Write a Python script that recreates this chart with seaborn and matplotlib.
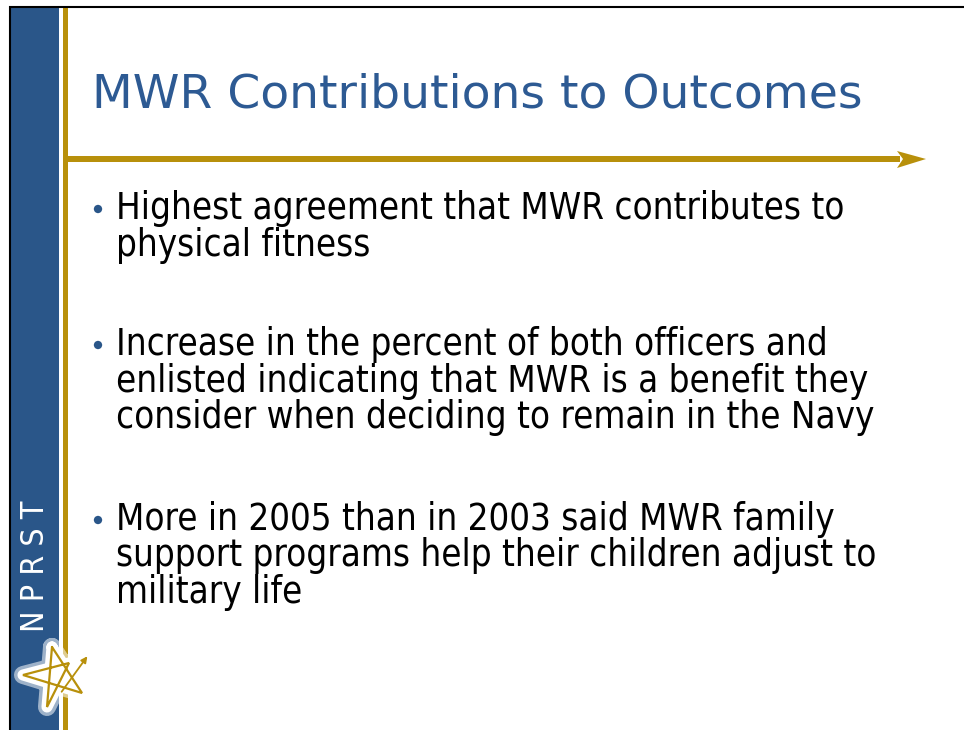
import matplotlib
matplotlib.use("Agg")
import matplotlib.pyplot as plt
import seaborn as sns
import numpy as np

sns.set_theme(style="white")
plt.rcParams["font.family"] = ["DejaVu Sans"]

TITLE = "MWR Contributions to Outcomes"
SIDE_LABEL = "N P R S T"

BULLETS = [
    ["Highest agreement that MWR contributes to",
     "physical fitness"],
    ["Increase in the percent of both officers and",
     "enlisted indicating that MWR is a benefit they",
     "consider when deciding to remain in the Navy"],
    ["More in 2005 than in 2003 said MWR family",
     "support programs help their children adjust to",
     "military life"],
]

BLUE = "#2A5689"
TITLE_BLUE = "#2D5A93"
GOLD = "#B8900B"


def intersect(p1, p2, p3, p4):
    d1, d2 = p2 - p1, p4 - p3
    t = np.cross(p3 - p1, d2) / np.cross(d1, d2)
    return p1 + t * d1


W, H = 964, 730
fig = plt.figure(figsize=(W / 100, H / 100), dpi=100)
ax = fig.add_axes([0, 0, 1, 1])

# frame lines
ax.plot([9.5, 9.5], [6, H], color="black", lw=1.5, solid_capstyle="butt")
ax.plot([9, W], [6.5, 6.5], color="black", lw=1.5, solid_capstyle="butt")

# blue side band and gold rules
ax.add_patch(plt.Rectangle((11, 7), 48, H - 7, color=BLUE, lw=0))
ax.add_patch(plt.Rectangle((63, 7), 5, H - 7, color=GOLD, lw=0))
ax.add_patch(plt.Rectangle((68, 156), 832, 6, color=GOLD, lw=0))
ax.add_patch(plt.Polygon([[897, 151], [926, 159], [897, 168], [903, 159]],
                         closed=True, color=GOLD, lw=0))

# title
ax.text(92, 108, TITLE, color=TITLE_BLUE, fontsize=34, va="baseline", ha="left")

# bullet text
starts = [219, 355, 530]
spacing = 36.5
bx, by = [], []
for block, y0 in zip(BULLETS, starts):
    for i, line in enumerate(block):
        ax.text(116, y0 + i * spacing, line, color="black", fontsize=26.3,
                fontstretch="condensed", va="baseline", ha="left")
    bx.append(98)
    by.append(y0 - 10)
sns.scatterplot(x=bx, y=by, ax=ax, color=BLUE, s=36, edgecolor="none", legend=False)

# side label
ax.text(35.5, 566, SIDE_LABEL, color="white", fontsize=23, rotation=90,
        fontstretch="condensed", fontweight="light", ha="center", va="center")

# star logo with white halo
star = np.array([[52, 647], [82, 693], [23, 675], [69, 663], [47, 707]], dtype=float)
inner = np.array([intersect(star[i], star[(i + 1) % 5],
                            star[(i + 2) % 5], star[(i + 3) % 5]) for i in range(5)])
c = inner.mean(axis=0)
inner = inner[np.argsort(np.arctan2(inner[:, 1] - c[1], inner[:, 0] - c[0]))]
closed = np.vstack([star, star[:1]])
for lw, a in [(13, 0.55), (8, 1.0)]:
    ax.plot(closed[:, 0], closed[:, 1], color="white", lw=lw, alpha=a,
            solid_joinstyle="round", solid_capstyle="round")
ax.add_patch(plt.Polygon(star, closed=True, color="white", lw=0))
ax.add_patch(plt.Polygon(inner, closed=True, color="white", lw=0))
ax.plot(closed[:, 0], closed[:, 1], color=GOLD, lw=1.6, solid_joinstyle="miter")
ax.annotate("", xy=(89, 654), xytext=(60, 694),
            arrowprops=dict(arrowstyle="-|>", color=GOLD, lw=1.3, mutation_scale=9))

ax.set_xlim(0, W)
ax.set_ylim(H, 0)
ax.axis("off")

fig.savefig("out.png", dpi=100, facecolor="white")
